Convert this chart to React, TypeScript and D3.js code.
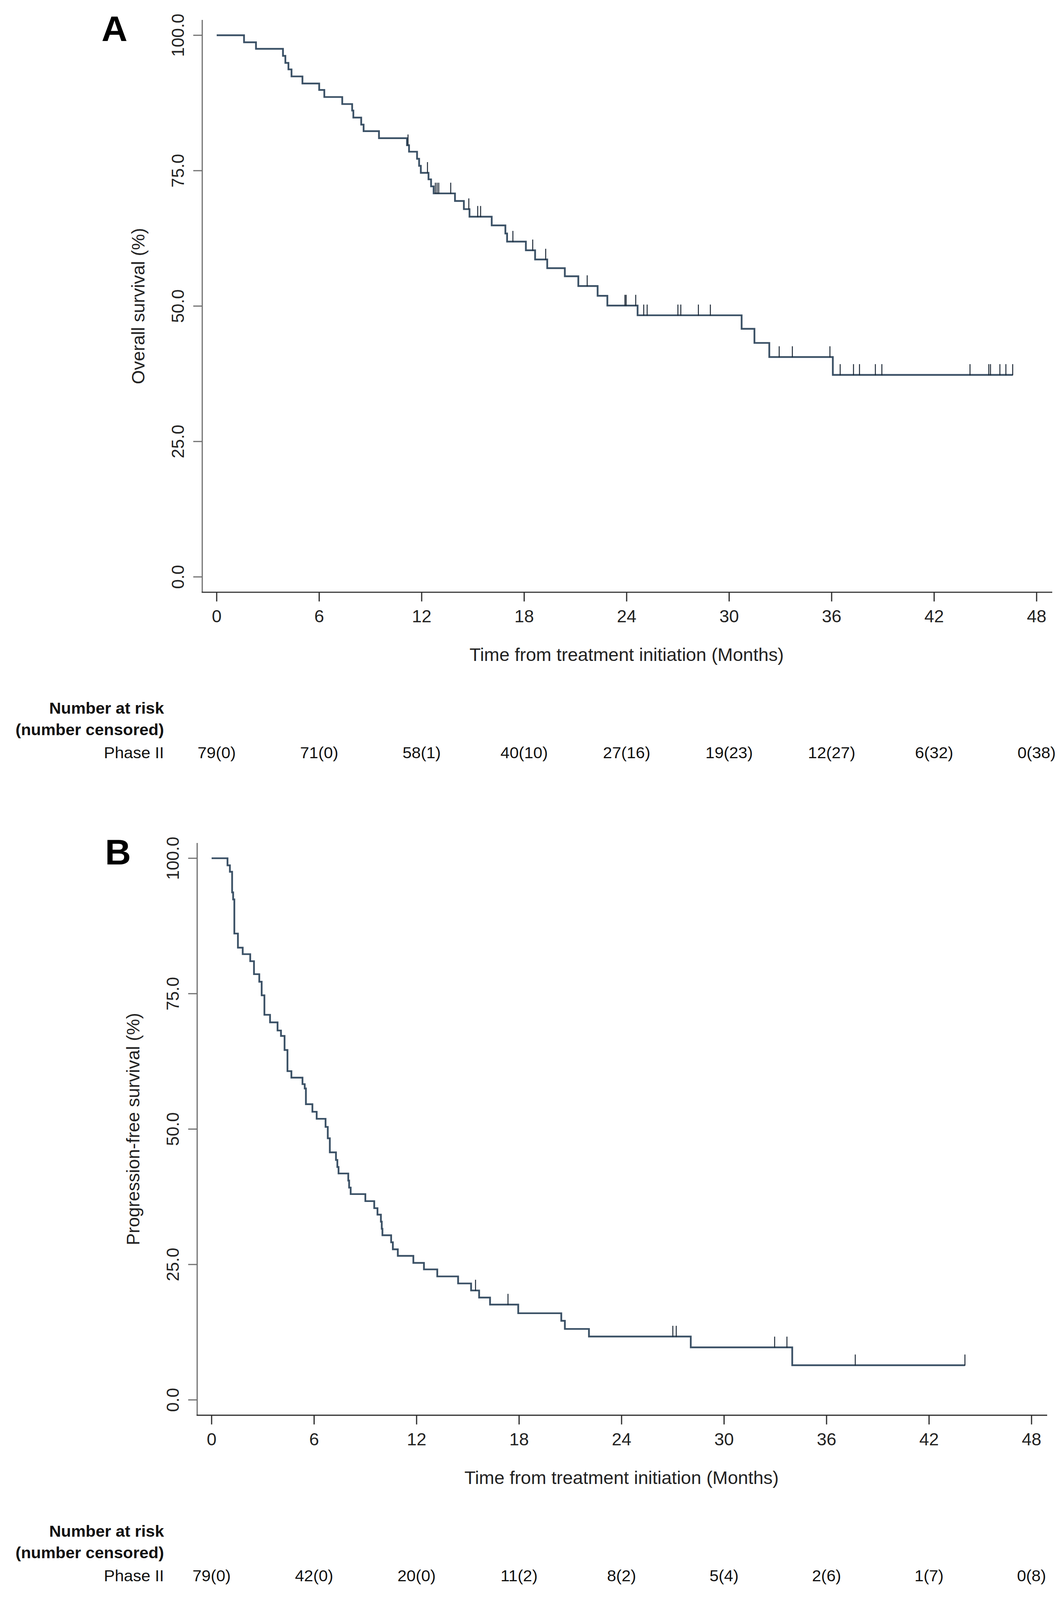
import React, { useEffect, useRef } from "react";
import * as d3 from "d3";

// Month ticks and survival ticks shared by both panels
const MONTHS = [0, 6, 12, 18, 24, 30, 36, 42, 48];
const SURV_TICKS = [0, 25, 50, 75, 100];

// Panel A: overall survival, step times (months) and survival (%) after each drop
const OS_TIME = [0, 1.6, 2.3, 3.88, 4.02, 4.2, 4.38, 5.02, 6.0, 6.3, 7.35, 7.93, 8.0, 8.46, 8.6, 9.5, 11.14, 11.26, 11.73, 11.85, 11.95, 12.4, 12.55, 12.7, 13.95, 14.47, 14.8, 16.1, 16.9, 17.0, 18.1, 18.64, 19.35, 20.38, 21.17, 22.3, 22.87, 24.64, 30.73, 31.48, 32.35, 36.07];
const OS_SURV = [100, 98.7, 97.5, 96.2, 94.9, 93.7, 92.4, 91.1, 89.9, 88.6, 87.3, 86.1, 84.8, 83.5, 82.3, 81.0, 79.7, 78.5, 77.2, 75.9, 74.6, 73.4, 72.1, 70.8, 69.4, 67.9, 66.5, 64.9, 63.4, 61.9, 60.3, 58.6, 57.0, 55.5, 53.7, 51.9, 50.1, 48.3, 45.8, 43.2, 40.6, 37.3];
const OS_CENSOR = [11.2, 12.34, 12.8, 12.9, 13.0, 13.7, 14.76, 15.28, 15.45, 17.34, 18.5, 19.26, 21.69, 23.9, 23.97, 24.53, 25.0, 25.2, 27.0, 27.17, 28.2, 28.9, 32.93, 33.7, 35.9, 36.5, 37.28, 37.63, 38.56, 38.94, 44.1, 45.2, 45.3, 45.85, 46.2, 46.6];
const OS_END = 46.6;
const OS_AT_RISK = ["79(0)", "71(0)", "58(1)", "40(10)", "27(16)", "19(23)", "12(27)", "6(32)", "0(38)"];

// Panel B: progression-free survival
const PFS_TIME = [0, 0.93, 1.07, 1.2, 1.26, 1.33, 1.54, 1.82, 2.26, 2.48, 2.79, 2.93, 3.09, 3.42, 3.86, 4.06, 4.27, 4.44, 4.67, 5.32, 5.45, 5.52, 5.9, 6.15, 6.67, 6.8, 6.92, 7.28, 7.36, 7.43, 8.0, 8.05, 8.14, 9.0, 9.52, 9.71, 9.91, 9.96, 10.0, 10.51, 10.61, 10.9, 11.81, 12.43, 13.21, 14.43, 15.19, 15.66, 16.3, 17.95, 20.47, 20.68, 22.09, 28.05, 33.99];
const PFS_SURV = [100, 98.7, 97.5, 93.7, 92.4, 86.1, 83.5, 82.3, 81.0, 78.6, 77.2, 74.7, 71.1, 69.7, 68.2, 67.2, 64.6, 60.7, 59.5, 58.3, 57.5, 54.6, 53.2, 51.9, 50.4, 48.3, 45.7, 44.3, 43.0, 41.8, 40.5, 39.2, 38.0, 36.7, 35.4, 34.2, 32.9, 31.6, 30.4, 29.1, 27.8, 26.6, 25.3, 24.1, 22.8, 21.5, 20.2, 18.9, 17.6, 16.0, 14.6, 13.1, 11.7, 9.7, 6.4];
const PFS_CENSOR = [15.45, 17.35, 27.0, 27.2, 32.96, 33.68, 37.68, 44.1];
const PFS_END = 44.1;
const PFS_AT_RISK = ["79(0)", "42(0)", "20(0)", "11(2)", "8(2)", "5(4)", "2(6)", "1(7)", "0(8)"];

const FONT = "'Liberation Sans', Arial, Helvetica, sans-serif";
const CURVE = "#3b5166";
const CENSOR = "#1f2b38";
const W = 2720;
const H = 4174;

interface Panel {
  letter: string;
  letterX: number;
  letterY: number;
  yTitle: string;
  xr: [number, number];
  yr: [number, number];
  time: number[];
  surv: number[];
  censor: number[];
  end: number;
  atRisk: string[];
}

const PANELS: Panel[] = [
  { letter: "A", letterX: 260, letterY: 107, yTitle: "Overall survival (%)", xr: [555, 2655], yr: [1505, 92], time: OS_TIME, surv: OS_SURV, censor: OS_CENSOR, end: OS_END, atRisk: OS_AT_RISK },
  { letter: "B", letterX: 269, letterY: 2255, yTitle: "Progression-free survival (%)", xr: [542, 2642], yr: [3652, 2239], time: PFS_TIME, surv: PFS_SURV, censor: PFS_CENSOR, end: PFS_END, atRisk: PFS_AT_RISK },
];

export default function App() {
  const ref = useRef<SVGSVGElement>(null);

  useEffect(() => {
    if (!ref.current) return;
    const el = d3.select(ref.current);
    el.selectAll("*").remove();
    PANELS.forEach((p) => drawPanel(el, p));
  }, []);

  // Fill the visible viewport whatever its exact height, keeping the 2720x4174 frame
  return (
    <div style={{ position: "fixed", left: 0, top: 0, width: "100vw", height: "100vh", overflow: "hidden", background: "#fff" }}>
      <svg
        ref={ref}
        viewBox={`0 0 ${W} ${H}`}
        preserveAspectRatio="none"
        style={{ display: "block", width: "100%", height: "100%" }}
      />
    </div>
  );
}

function drawPanel(el: d3.Selection<SVGSVGElement, unknown, null, undefined>, p: Panel) {
  const x = d3.scaleLinear().domain([0, 48]).range(p.xr);
  const y = d3.scaleLinear().domain([0, 100]).range(p.yr);
  const pad = 40;
  const left = p.xr[0] - pad + 3;
  const right = p.xr[1] + pad;
  const top = p.yr[1] - pad;
  const bottom = p.yr[0] + pad;

  const g = el.append("g").attr("font-family", FONT);

  // Panel letter
  g.append("text")
    .attr("x", p.letterX).attr("y", p.letterY)
    .attr("font-size", 92).attr("font-weight", 700).attr("fill", "#000")
    .text(p.letter);

  // Y axis
  g.append("line")
    .attr("x1", left).attr("x2", left).attr("y1", top).attr("y2", bottom)
    .attr("stroke", "#6f6f6f").attr("stroke-width", 3);
  SURV_TICKS.forEach((t) => {
    g.append("line")
      .attr("x1", left - 23).attr("x2", left).attr("y1", y(t)).attr("y2", y(t))
      .attr("stroke", "#6f6f6f").attr("stroke-width", 3);
    g.append("text")
      .attr("transform", `translate(${left - 63},${y(t)}) rotate(-90)`)
      .attr("text-anchor", "middle").attr("dy", "0.36em")
      .attr("font-size", 45).attr("fill", "#222")
      .text(d3.format(".1f")(t));
  });
  g.append("text")
    .attr("transform", `translate(${left - 165},${(p.yr[0] + p.yr[1]) / 2}) rotate(-90)`)
    .attr("text-anchor", "middle").attr("dy", "0.36em")
    .attr("font-size", 47).attr("fill", "#222")
    .text(p.yTitle);

  // X axis
  g.append("line")
    .attr("x1", left - 1.5).attr("x2", right).attr("y1", bottom).attr("y2", bottom)
    .attr("stroke", "#2a2a2a").attr("stroke-width", 3);
  MONTHS.forEach((m) => {
    g.append("line")
      .attr("x1", x(m)).attr("x2", x(m)).attr("y1", bottom).attr("y2", bottom + 24)
      .attr("stroke", "#2a2a2a").attr("stroke-width", 3);
    g.append("text")
      .attr("x", x(m)).attr("y", bottom + 62).attr("dy", "0.36em")
      .attr("text-anchor", "middle").attr("font-size", 45).attr("fill", "#222")
      .text(m);
  });
  g.append("text")
    .attr("x", (p.xr[0] + p.xr[1]) / 2).attr("y", bottom + 162).attr("dy", "0.36em")
    .attr("text-anchor", "middle").attr("font-size", 47).attr("fill", "#222")
    .text("Time from treatment initiation (Months)");

  // KM step curve
  const pts: [number, number][] = p.time.map((t, i) => [t, p.surv[i]]);
  pts.push([p.end, p.surv[p.surv.length - 1]]);
  const line = d3.line<[number, number]>()
    .x((d) => x(d[0]))
    .y((d) => y(d[1]))
    .curve(d3.curveStepAfter);
  g.append("path")
    .datum(pts)
    .attr("fill", "none")
    .attr("stroke", CURVE)
    .attr("stroke-width", 4.5)
    .attr("d", line);

  // Censor marks
  const bis = d3.bisector((t: number) => t).right;
  p.censor.forEach((c) => {
    const s = p.surv[Math.max(0, bis(p.time, c) - 1)];
    g.append("line")
      .attr("x1", x(c)).attr("x2", x(c))
      .attr("y1", y(s) + 1).attr("y2", y(s) - 28)
      .attr("stroke", CENSOR).attr("stroke-width", 2.5);
  });

  // Number at risk table
  const rowY = [bottom + 302, bottom + 358, bottom + 418];
  g.append("text")
    .attr("x", 420).attr("y", rowY[0]).attr("dy", "0.36em")
    .attr("text-anchor", "end").attr("font-size", 42).attr("font-weight", 700).attr("fill", "#111")
    .text("Number at risk");
  g.append("text")
    .attr("x", 420).attr("y", rowY[1]).attr("dy", "0.36em")
    .attr("text-anchor", "end").attr("font-size", 42).attr("font-weight", 700).attr("fill", "#111")
    .text("(number censored)");
  g.append("text")
    .attr("x", 420).attr("y", rowY[2]).attr("dy", "0.36em")
    .attr("text-anchor", "end").attr("font-size", 42).attr("fill", "#111")
    .text("Phase II");
  p.atRisk.forEach((v, i) => {
    g.append("text")
      .attr("x", x(MONTHS[i])).attr("y", rowY[2]).attr("dy", "0.36em")
      .attr("text-anchor", "middle").attr("font-size", 42).attr("fill", "#111")
      .text(v);
  });
}
